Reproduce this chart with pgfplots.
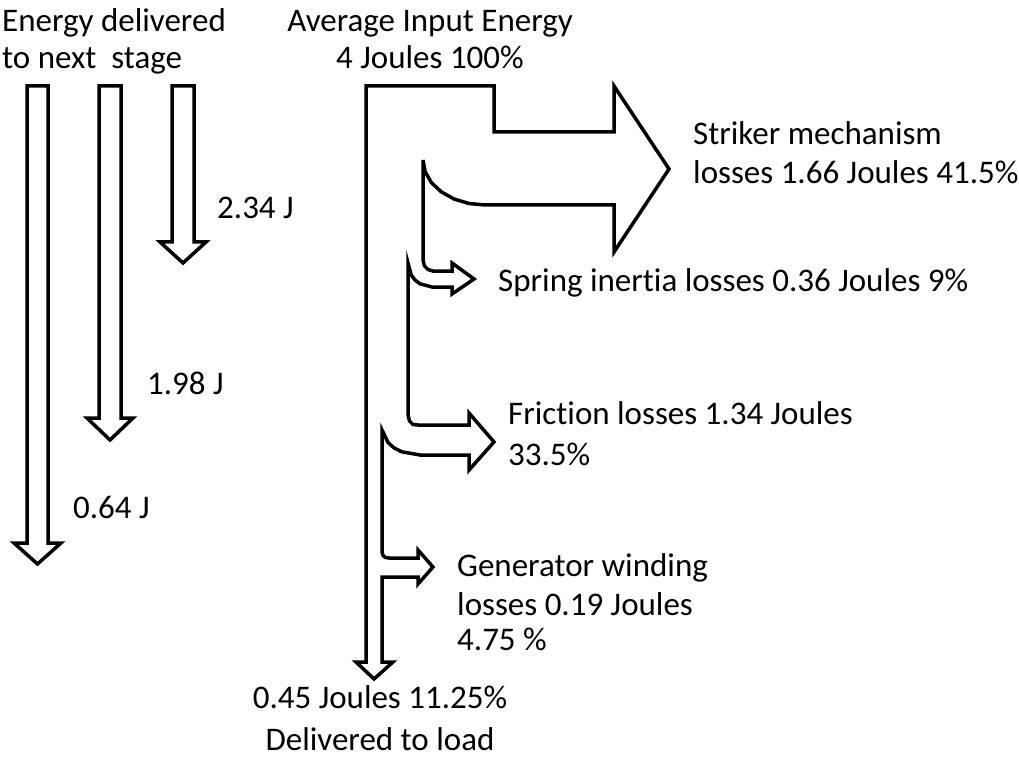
\documentclass[border=0pt]{standalone}
\usepackage{fontspec}
\setmainfont[Ligatures={NoCommon}]{Carlito}
\usepackage{pgfplots}
\pgfplotsset{compat=1.18}
\tikzset{lbl/.style={anchor=base west,inner sep=0pt,font=\fontsize{33}{40}\selectfont}}
\begin{document}
\begin{tikzpicture}
\begin{axis}[x=1pt,y=1pt,xmin=0,xmax=1019,ymin=0,ymax=759,y dir=reverse,
  hide axis,clip=false]
% left arrows: energy delivered to next stage
\addplot[draw=black,fill=white,line width=3.5pt,line join=miter] coordinates {
 (27,86) (48,86) (48,543) (61,543) (37.5,564) (14,543) (27,543)} -- cycle;
\addplot[draw=black,fill=white,line width=3.5pt,line join=miter] coordinates {
 (99,86) (121,86) (121,418) (133,418) (110,440) (87,418) (99,418)} -- cycle;
\addplot[draw=black,fill=white,line width=3.5pt,line join=miter] coordinates {
 (172,86) (194,86) (194,242) (206,242) (183,263) (160,242) (172,242)} -- cycle;
% main Sankey outline
\addplot[draw=black,fill=white,line width=3.5pt,line join=miter] coordinates {
 (366,86) (494,86) (494,132) (614,132) (614,86) (669,169) (614,252) (614,205)
 (485,205) (468.9,203.5) (454,199) (441.2,191.8) (431.3,182.5) (425.1,171.6) (423,160)
 (423,260) (424.5,266) (428,269.5) (433,271) (452,271) (452,263) (474,279)
 (452,294) (452,287) (432,287) (420,283.8) (415,280) (411.2,275) (408,263)
 (408,415) (409.5,421) (413,424.5) (418,425) (469,425) (469,413) (494,442)
 (469,470) (469,455) (420,455) (401.5,451.7) (393.8,447.7) (388,442.5) (382,430)
 (382,552) (383,555.5) (385.5,557.5) (389,558) (418,558) (418,550) (433,567)
 (418,584) (418,577) (382,577) (382,662) (393,662) (374,679) (356,662) (366,662)} -- cycle;
% labels
\node[lbl] at (axis cs:2,32) {Energy delivered};
\node[lbl] at (axis cs:2,69) {to next\ \ stage};
\node[lbl,anchor=base] at (axis cs:430,32) {Average Input Energy};
\node[lbl,anchor=base] at (axis cs:430,69) {4 Joules 100\%};
\node[lbl] at (axis cs:693,145) {Striker mechanism};
\node[lbl] at (axis cs:693,184) {losses 1.66 Joules 41.5\%};
\node[lbl] at (axis cs:217,219) {2.34 J};
\node[lbl] at (axis cs:498,291) {Spring inertia losses 0.36 Joules 9\%};
\node[lbl] at (axis cs:147,394) {1.98 J};
\node[lbl] at (axis cs:508,424) {Friction losses 1.34 Joules};
\node[lbl] at (axis cs:508,465) {33.5\%};
\node[lbl] at (axis cs:73,518) {0.64 J};
\node[lbl] at (axis cs:457,576) {Generator winding};
\node[lbl] at (axis cs:457,615) {losses 0.19 Joules};
\node[lbl] at (axis cs:457,650) {4.75 \%};
\node[lbl,anchor=base] at (axis cs:380,708) {0.45 Joules 11.25\%};
\node[lbl,anchor=base] at (axis cs:380,750) {Delivered to load};
\end{axis}
\pgfresetboundingbox
\path (current axis.south west) rectangle (current axis.north east);
\end{tikzpicture}
\end{document}
